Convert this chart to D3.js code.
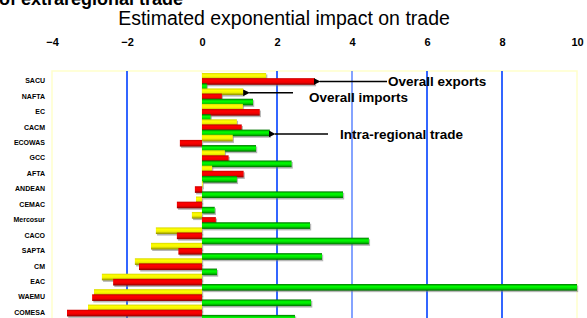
<!DOCTYPE html>
<html><head><meta charset="utf-8">
<script src="https://cdn.jsdelivr.net/npm/d3@7"></script>
<style>body{margin:0;background:#fff;}svg{display:block;}</style>
</head><body>
<script>
const categories = ["SACU","NAFTA","EC","CACM","ECOWAS","GCC","AFTA","ANDEAN","CEMAC","Mercosur","CACO","SAPTA","CM","EAC","WAEMU","COMESA"];
const overallImports = [1.71,1.10,1.09,0.93,0.82,0.61,0.27,0.02,-0.16,-0.27,-1.23,-1.36,-1.79,-2.67,-2.88,-3.04];
const overallExports = [3.01,0.53,1.54,1.06,-0.59,0.71,1.11,-0.19,-0.67,0.37,-0.67,-0.63,-1.68,-2.37,-2.93,-3.60];
const intraRegional = [0.13,1.36,0.23,1.81,1.44,2.39,0.93,3.76,0.34,2.88,4.45,3.20,0.40,10.0,2.91,2.48];
const tickValues = [-4,-2,0,2,4,6,8,10];
const seriesNames = ["Overall imports","Overall exports","Intra-regional trade"];

const W=587,H=318;
const svg=d3.select("body").append("svg").attr("width",W).attr("height",H);
const defs=svg.append("defs");
const grads={
 "Overall imports":[["0%","#d8d800"],["30%","#ffff00"],["60%","#f2f200"],["100%","#8a8a00"]],
 "Overall exports":[["0%","#c80000"],["30%","#ff0000"],["65%","#ee0000"],["100%","#8a0000"]],
 "Intra-regional trade":[["0%","#007400"],["35%","#00ff00"],["65%","#00dd00"],["100%","#006600"]]
};
seriesNames.forEach((s,i)=>{
  const g=defs.append("linearGradient").attr("id","g"+i).attr("x1",0).attr("y1",0).attr("x2",0).attr("y2",1);
  grads[s].forEach(([o,c])=>g.append("stop").attr("offset",o).attr("stop-color",c));
});
defs.append("marker").attr("id","arr").attr("viewBox","0 0 10 10").attr("refX",1).attr("refY",5)
  .attr("markerWidth",4.5).attr("markerHeight",4.5).attr("orient","auto-start-reverse")
  .append("path").attr("d","M0,5 L10,0 L10,10 Z").attr("fill","#000");

const x=d3.scaleLinear().domain([-4,10]).range([52,577]);
const y=d3.scaleBand().domain(categories).range([73,73+16*15.44]).padding(0);
const ys=d3.scaleBand().domain(seriesNames).range([0,y.bandwidth()]).padding(0);

// top-left partial title
svg.append("text").attr("x",-1).attr("y",5).attr("font-family","Liberation Sans, Arial, sans-serif")
  .attr("font-weight","bold").attr("font-size",18).text("of extraregional trade");
svg.append("text").attr("x",284).attr("y",25).attr("text-anchor","middle")
  .attr("font-family","Liberation Sans, Arial, sans-serif").attr("font-size",19.5)
  .text("Estimated exponential impact on trade");

// plot border
const pTop=71;
svg.append("path").attr("d",`M${x(-4)},${H} V${pTop} H${x(10)} V${H}`).attr("fill","none").attr("stroke","#ffffcc").attr("stroke-width",1.5);

// gridlines
const grid=[-2,2,4,6,8];
svg.append("g").selectAll("line").data(grid).join("line")
  .attr("x1",d=>x(d)).attr("x2",d=>x(d)).attr("y1",pTop).attr("y2",H)
  .attr("stroke","#3366ff").attr("stroke-width",d=>d===4?1.2:2);
svg.append("line").attr("x1",x(0)).attr("x2",x(0)).attr("y1",pTop).attr("y2",H).attr("stroke","#ffffcc").attr("stroke-width",1.5);

// axis
const ax=svg.append("g").attr("transform","translate(0,46)")
  .call(d3.axisTop(x).tickValues(tickValues).tickSize(0).tickPadding(0).tickFormat(d3.format("")));
ax.select(".domain").remove();
ax.selectAll("text").attr("font-family","Liberation Sans, Arial, sans-serif").attr("font-weight","bold").attr("font-size",11);

// category labels
svg.append("g").selectAll("text").data(categories).join("text")
  .attr("x",45).attr("y",d=>y(d)+y.bandwidth()/2+2.5).attr("text-anchor","end")
  .attr("font-family","Liberation Sans, Arial, sans-serif").attr("font-weight","bold").attr("font-size",7)
  .text(d=>d);

// bars
const data=[];
categories.forEach((c,i)=>{
  [overallImports,overallExports,intraRegional].forEach((arr,j)=>data.push({c,s:seriesNames[j],j,v:arr[i]}));
});
const bh=ys.bandwidth()+1.5;
const bars=svg.append("g");
data.forEach(d=>{
  const x0=x(Math.min(0,d.v)), x1=x(Math.max(0,d.v));
  const yy=y(d.c)+ys(d.s);
  bars.append("rect").attr("x",x0+1.2).attr("y",yy+1.5).attr("width",Math.max(0,x1-x0)).attr("height",bh)
    .attr("fill","#7a7a7a").attr("opacity",0.55);
  bars.append("rect").attr("x",x0).attr("y",yy).attr("width",Math.max(0,x1-x0)).attr("height",bh)
    .attr("fill","url(#g"+d.j+")");
});

// annotations
const ann=svg.append("g").attr("font-family","Liberation Sans, Arial, sans-serif").attr("font-weight","bold").attr("font-size",13.5);
const yc=(c,s)=>y(c)+ys(s)+bh/2;
const yE=yc("SACU","Overall exports"), yI=yc("NAFTA","Overall imports")+1, yT=yc("CACM","Intra-regional trade")+1;
ann.append("line").attr("x1",387).attr("y1",yE).attr("x2",x(overallExports[0])+5).attr("y2",yE).attr("stroke","#000").attr("stroke-width",1.5).attr("marker-end","url(#arr)");
ann.append("text").attr("x",388).attr("y",yE+5).text("Overall exports");
ann.append("line").attr("x1",293).attr("y1",yI).attr("x2",x(overallImports[1])+6).attr("y2",yI).attr("stroke","#000").attr("stroke-width",1.5).attr("marker-end","url(#arr)");
ann.append("text").attr("x",309).attr("y",yI+9).text("Overall imports");
ann.append("line").attr("x1",328).attr("y1",yT).attr("x2",x(intraRegional[3])+5).attr("y2",yT).attr("stroke","#000").attr("stroke-width",1.5).attr("marker-end","url(#arr)");
ann.append("text").attr("x",340).attr("y",yT+5).text("Intra-regional trade");
</script>
</body></html>
